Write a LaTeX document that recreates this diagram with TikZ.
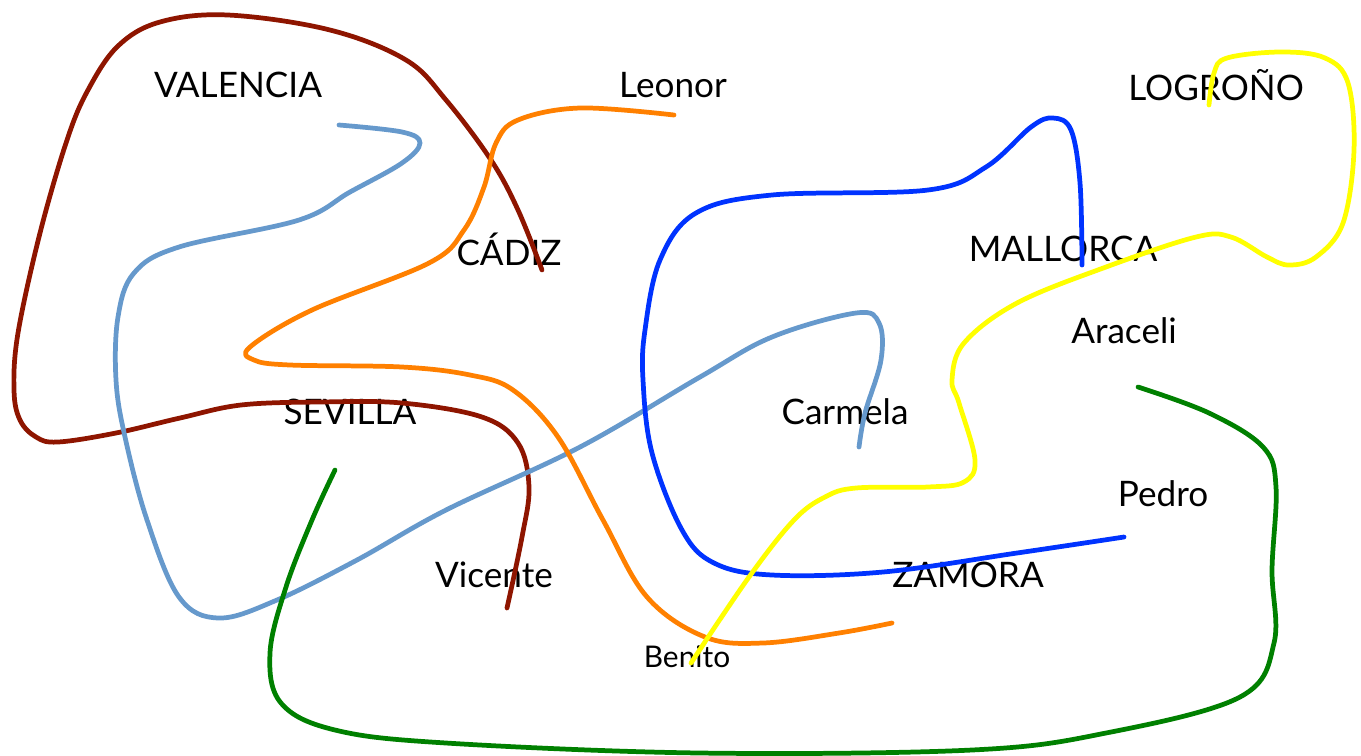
\documentclass[tikz,border=0pt]{standalone}
\usepackage{fontspec}
\setmainfont{Lato}
\usepackage{tikz}
\usetikzlibrary{positioning}
\definecolor{darkred}{HTML}{8E1500}
\definecolor{steelblue}{HTML}{6699CC}
\definecolor{brightorange}{HTML}{FF8000}
\definecolor{brightblue}{HTML}{0033FF}
\definecolor{brightyellow}{HTML}{FFFF00}
\definecolor{darkgreen}{HTML}{008000}
\tikzstyle{place}=[font=\fontsize{20}{24}\selectfont]
\tikzstyle{smallplace}=[font=\fontsize{17}{20}\selectfont]
\tikzstyle{route}=[line width=2.7pt, line cap=round, line join=round, smooth, tension=0.6]

\begin{document}
\begin{tikzpicture}[x=0.02cm, y=-0.02cm]
    % 描画範囲
    \useasboundingbox (0,0) rectangle (1361,755);

    % 地名と人名
    \node[place] (valencia) at (238,85) {VALENCIA};
    \node[place] (leonor) at (673,85) {Leonor};
    \node[place] (logrono) at (1216,85) {LOGROÑO};
    \node[place] (cadiz) at (509,249) {CÁDIZ};
    \node[place] (mallorca) at (1063,249) {MALLORCA};
    \node[place] (araceli) at (1124,331) {Araceli};
    \node[place] (sevilla) at (350,412) {SEVILLA};
    \node[place] (carmela) at (845,412) {Carmela};
    \node[place] (pedro) at (1163,494) {Pedro};
    \node[place] (vicente) at (494,575) {Vicente};
    \node[place] (zamora) at (968,575) {ZAMORA};
    \node[smallplace] (benito) at (687,657) {Benito};

    % 濃い赤の線
    \draw[route, darkred] plot coordinates {(542,270) (518,210) (491,160) (446,100) (406,60) (330,30) (228,15) (160,22) (118,46) (88,90) (67,140) (40,233) (18,333) (14,390) (20,420) (36,437) (58,442) (116,433) (180,418) (241,405) (320,402) (402,403) (482,417) (518,443) (529,487) (522,537) (507,608)};

    % 水色の線
    \draw[route, steelblue] plot coordinates {(339,125) (402,132) (420,143) (402,163) (350,192) (299,220) (179,247) (134,273) (118,317) (116,380) (125,437) (147,520) (179,597) (219,618) (277,600) (357,560) (446,510) (580,447) (700,377) (772,337) (856,313) (879,323) (881,360) (865,413) (859,447)};

    % オレンジの線
    \draw[route, brightorange] plot coordinates {(674,115) (580,108) (518,120) (496,143) (484,187) (464,230) (429,263) (312,310) (250,347) (254,360) (290,365) (402,367) (470,375) (513,390) (558,437) (603,520) (647,597) (705,637) (763,643) (839,633) (892,623)};

    % 青の線
    \draw[route, brightblue] plot coordinates {(1082,265) (1080,183) (1071,130) (1053,118) (1031,127) (986,167) (928,190) (772,195) (696,213) (660,260) (645,330) (643,380) (652,453) (682,530) (714,563) (772,575) (883,572) (1017,553) (1124,537)};

    % 黄色の線
    \draw[route, brightyellow] plot coordinates {(1209,105) (1214,73) (1227,58) (1281,52) (1325,58) (1348,83) (1354,150) (1343,223) (1316,257) (1289,265) (1267,257) (1231,237) (1196,237) (1106,267) (1017,303) (964,343) (952,380) (959,403) (975,460) (964,482) (928,487) (856,488) (825,497) (794,520) (749,577) (691,663)};

    % 緑の線
    \draw[route, darkgreen] plot coordinates {(335,470) (312,520) (286,587) (270,653) (281,703) (335,730) (446,743) (700,753) (972,750) (1106,733) (1240,697) (1274,643) (1272,570) (1276,487) (1263,447) (1209,413) (1138,387)};
\end{tikzpicture}
\end{document}
